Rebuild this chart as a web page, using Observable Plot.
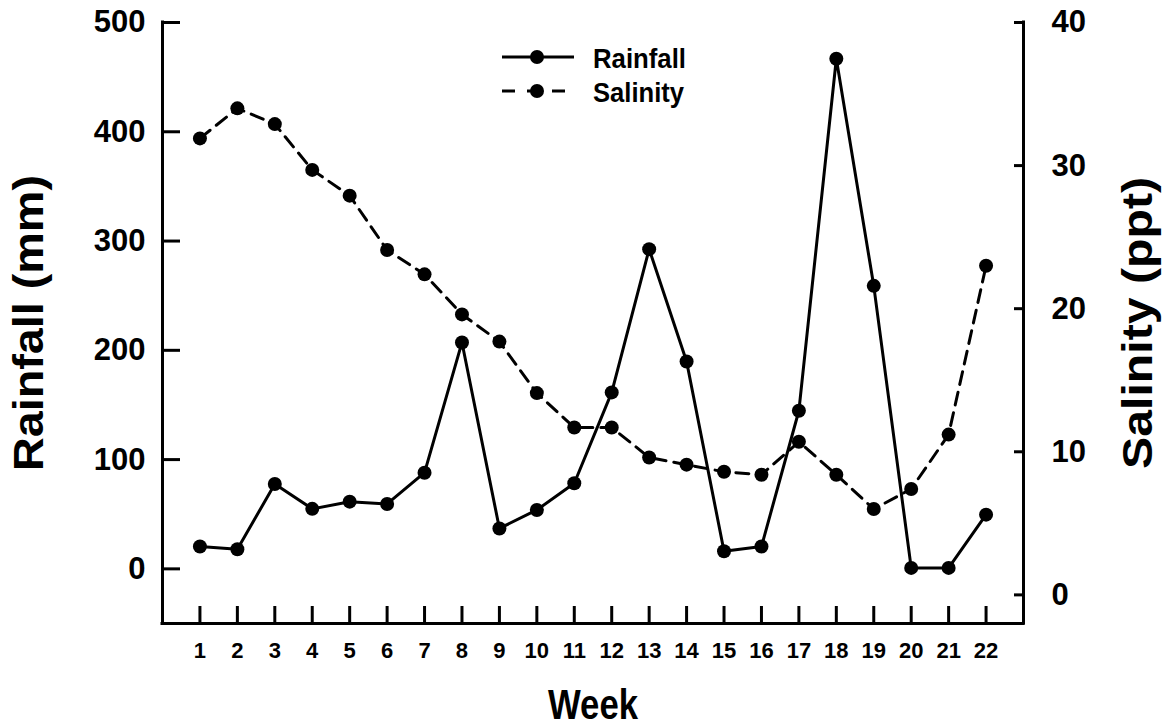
<!DOCTYPE html>
<html>
<head>
<meta charset="utf-8">
<script src="https://cdn.jsdelivr.net/npm/d3@7"></script>
<script src="https://cdn.jsdelivr.net/npm/@observablehq/plot@0.6"></script>
<style>
  html, body { margin: 0; padding: 0; background: #fff; }
  #chart { position: relative; width: 1171px; height: 727px; }
  #chart svg text { font-family: "Liberation Sans", Arial, sans-serif; font-weight: bold; fill: #000; }
  #chart g[aria-label="y-axis tick label"] text { font-size: 31px; }
  #chart g[aria-label="x-axis tick label"] text { font-size: 22px; }
  #chart g[aria-label="y-axis label"] text { font-size: 43px; }
  #chart g[aria-label="x-axis label"] text { font-size: 43px; }
  #legend { position: absolute; left: 0; top: 0; pointer-events: none; }
  #legend text { font-family: "Liberation Sans", Arial, sans-serif; font-weight: bold; font-size: 28px; }
</style>
</head>
<body>
<div id="chart"></div>
<script>
// ---- data ----
const weeks = [1, 2, 3, 4, 5, 6, 7, 8, 9, 10, 11, 12, 13, 14, 15, 16, 17, 18, 19, 20, 21, 22];
const rainfall = [20.4, 17.9, 77.7, 54.9, 61.5, 59.4, 88, 207.2, 37, 53.9, 78.3, 161.5, 292.6, 189.8, 16.1, 20.4, 144.7, 466.8, 259, 0.9, 0.9, 49.6];
const salinity = [31.9, 34.0, 32.9, 29.7, 27.9, 24.1, 22.4, 19.6, 17.7, 14.1, 11.7, 11.7, 9.6, 9.1, 8.6, 8.4, 10.7, 8.4, 6.0, 7.4, 11.2, 23.0];
const rainTicks = [0, 100, 200, 300, 400, 500];
const salTicks = [0, 10, 20, 30, 40];
const weekDomain = [0, 23];
const rainDomain = [-50, 500];
const salDomain = [-2, 40];
const seriesNames = ["Rainfall", "Salinity"];

// map salinity onto the rainfall (left) scale
const k = (rainDomain[1] - rainDomain[0]) / (salDomain[1] - salDomain[0]);
const toRain = s => rainDomain[0] + (s - salDomain[0]) * k;
const fromRain = r => salDomain[0] + (r - rainDomain[0]) / k;

const table = weeks.map((w, i) => ({week: w, rain: rainfall[i], sal: salinity[i], salR: toRain(salinity[i])}));

const plot = Plot.plot({
  width: 1171,
  height: 727,
  marginLeft: 162,
  marginRight: 148,
  marginTop: 22,
  marginBottom: 104,
  x: {domain: weekDomain},
  y: {domain: rainDomain},
  marks: [
    // axis frame lines (left, right, bottom)
    Plot.ruleX([weekDomain[0], weekDomain[1]], {stroke: "#000", strokeWidth: 3, strokeLinecap: "square"}),
    Plot.ruleY([rainDomain[0]], {stroke: "#000", strokeWidth: 3, strokeLinecap: "square"}),
    // left axis
    Plot.axisY(rainTicks, {anchor: "left", tickSize: 0, tickPadding: 17, label: null}),
    Plot.axisY(rainTicks, {anchor: "left", tickSize: -18, text: null, strokeWidth: 3, label: null}),
    Plot.axisY({anchor: "left", ticks: [], tickSize: 0, label: "Rainfall (mm)", labelAnchor: "center", labelOffset: 150, labelArrow: "none"}),
    // right axis (salinity)
    Plot.axisY(salTicks.map(toRain), {anchor: "right", tickSize: 0, tickPadding: 28, tickFormat: d => Math.round(fromRain(d)), label: null}),
    Plot.axisY(salTicks.map(toRain), {anchor: "right", tickSize: -10, text: null, strokeWidth: 3, label: null}),
    Plot.axisY({anchor: "right", ticks: [], tickSize: 0, label: "Salinity (ppt)", labelAnchor: "center", labelOffset: 128, labelArrow: "none"}),
    // bottom axis
    Plot.axisX(weeks, {anchor: "bottom", tickSize: 0, tickPadding: 19, tickFormat: d => String(d), label: null}),
    Plot.axisX(weeks, {anchor: "bottom", tickSize: -17, text: null, strokeWidth: 3, label: null}),
    Plot.axisX({anchor: "bottom", ticks: [], tickSize: 0, label: "Week", labelAnchor: "center", labelOffset: 95, labelArrow: "none"}),
    // series
    Plot.line(table, {x: "week", y: "salR", stroke: "#000", strokeWidth: 3, strokeDasharray: "13,8"}),
    Plot.dot(table, {x: "week", y: "salR", r: 7, fill: "#000", stroke: "none"}),
    Plot.line(table, {x: "week", y: "rain", stroke: "#000", strokeWidth: 3}),
    Plot.dot(table, {x: "week", y: "rain", r: 7, fill: "#000", stroke: "none"})
  ]
});
document.getElementById("chart").appendChild(plot);

// stretch axis titles along their reading direction to match the reference proportions
const titleLengths = {"Rainfall (mm)": 296, "Salinity (ppt)": 292, "Week": 90};
d3.select(plot).selectAll('g[aria-label="y-axis label"] text, g[aria-label="x-axis label"] text').each(function () {
  const len = titleLengths[this.textContent];
  if (len) { this.setAttribute("textLength", len); this.setAttribute("lengthAdjust", "spacingAndGlyphs"); }
});

// legend overlay
const ns = "http://www.w3.org/2000/svg";
const lg = document.createElementNS(ns, "svg");
lg.setAttribute("id", "legend");
lg.setAttribute("width", 1171);
lg.setAttribute("height", 727);
const rows = [
  {name: seriesNames[0], cy: 57, dash: null, len: 93},
  {name: seriesNames[1], cy: 91, dash: "13,12", len: 91}
];
rows.forEach(r => {
  const ln = document.createElementNS(ns, "line");
  ln.setAttribute("x1", 502); ln.setAttribute("x2", r.dash ? 566 : 574);
  ln.setAttribute("y1", r.cy); ln.setAttribute("y2", r.cy);
  ln.setAttribute("stroke", "#000"); ln.setAttribute("stroke-width", 3);
  if (r.dash) ln.setAttribute("stroke-dasharray", r.dash);
  lg.appendChild(ln);
  const c = document.createElementNS(ns, "circle");
  c.setAttribute("cx", 537); c.setAttribute("cy", r.cy); c.setAttribute("r", 7);
  c.setAttribute("fill", "#000");
  lg.appendChild(c);
  const t = document.createElementNS(ns, "text");
  t.setAttribute("x", 593); t.setAttribute("y", r.cy + 11);
  t.setAttribute("textLength", r.len); t.setAttribute("lengthAdjust", "spacingAndGlyphs");
  t.textContent = r.name;
  lg.appendChild(t);
});
document.getElementById("chart").appendChild(lg);
</script>
</body>
</html>
